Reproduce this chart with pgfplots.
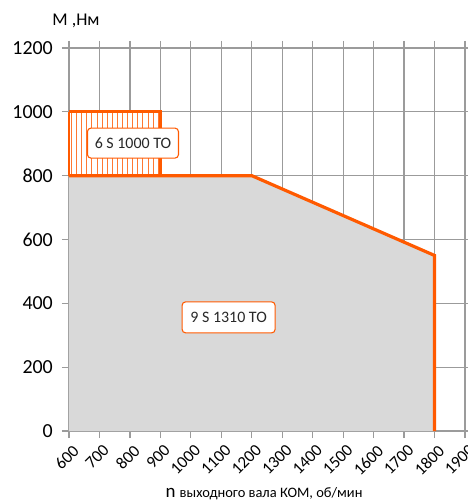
\documentclass[border=0pt]{standalone}
\usepackage{pgfplots}
\pgfplotsset{compat=1.18}
\usepackage{fontspec}
\setmainfont{Carlito}
\usetikzlibrary{patterns.meta}
\definecolor{korange}{RGB}{255,90,0}
\definecolor{khatch}{RGB}{255,120,50}
\definecolor{kfill}{RGB}{217,217,217}
\definecolor{kgrid}{RGB}{155,155,155}
\definecolor{ktext}{RGB}{40,40,40}
\begin{document}
\begin{tikzpicture}
\useasboundingbox (-69bp,-72bp) rectangle (399bp,431bp);
\begin{axis}[
    at={(0,0)}, anchor=south west,
    scale only axis,
    width=396bp, height=383bp,
    xmin=600, xmax=1900, ymin=0, ymax=1200,
    xtick={600,700,...,1900},
    ytick={0,200,...,1200},
    grid=major,
    major grid style={draw=kgrid, line width=1.2pt},
    axis line style={draw=kgrid, line width=1.2pt},
    tick style={draw=kgrid, line width=1.2pt},
    tick align=outside,
    major tick length=7bp,
    /pgf/number format/assume math mode=true,
    /pgf/number format/1000 sep={},
    yticklabel style={font=\fontsize{20}{22}\selectfont, text=black, inner sep=3bp, xshift=-6bp},
    xticklabel style={font=\fontsize{17}{19}\selectfont, text=black, rotate=45, anchor=north east, inner sep=1bp, yshift=-5bp, xshift=-1bp},
    clip=false,
]
% area of 9 S 1310 TO
\addplot[fill=kfill, draw=none] coordinates {(600,0) (600,800) (1200,800) (1800,550) (1800,0)};
% hatched area of 6 S 1000 TO
\addplot[fill=white, draw=none] coordinates {(600,800) (600,1000) (900,1000) (900,800)};
\addplot[draw=none, pattern={Lines[angle=90, distance=5.1bp, line width=0.8pt]}, pattern color=khatch] coordinates {(600,800) (600,1000) (900,1000) (900,800)};
\addplot[korange, line width=1.3pt] coordinates {(600,800) (600,1000)};
\addplot[korange, line width=3pt] coordinates {(600,1000) (900,1000) (900,800)};
% limit line
\addplot[korange, line width=3.2pt] coordinates {(600,800) (1200,800) (1800,550) (1800,0)};
\node[draw=korange, line width=1.1pt, rounded corners=3.5bp, fill=white, text=ktext, font=\fontsize{16}{18}\selectfont, minimum width=91bp, minimum height=30bp, inner sep=2bp] at (axis cs:810,902) {6 S 1000 TO};
\node[draw=korange, line width=1.1pt, rounded corners=3.5bp, fill=white, text=ktext, font=\fontsize{16}{18}\selectfont, minimum width=93bp, minimum height=31bp, inner sep=2bp] at (axis cs:1124,356) {9 S 1310 TO};
\node[font=\fontsize{18}{20}\selectfont, text=black, anchor=base] at ([xshift=7bp, yshift=22bp]rel axis cs:0,1) {M ,Нм};
\node[text=black, anchor=base] at ([xshift=-3bp, yshift=-66bp]rel axis cs:0.5,0) {\fontsize{19}{20}\selectfont n \fontsize{14.5}{16}\selectfont выходного вала КОМ, об/мин};
\end{axis}
\end{tikzpicture}
\end{document}
